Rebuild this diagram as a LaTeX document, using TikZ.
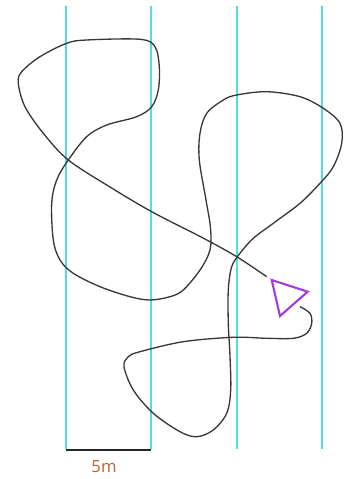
\documentclass[tikz,border=0pt]{standalone}
\usepackage{fontspec}
\setmainfont{Open Sans}
\usepackage{tikz}
\usetikzlibrary{positioning, calc}
\usepackage{xcolor}
\definecolor{lanecyan}{RGB}{80,222,222}
\definecolor{trackgray}{RGB}{55,55,55}
\definecolor{robotpurple}{RGB}{160,60,225}
\definecolor{scalebrown}{RGB}{180,100,60}
\tikzset{
  laneline/.style={draw=lanecyan,line width=1.1pt},
  trackpath/.style={draw=trackgray,line width=0.75pt,line join=round},
  robotmark/.style={draw=robotpurple,line width=1.2pt,line join=miter},
  scalebar/.style={draw=black!85,line width=1.7pt},
  scalelabel/.style={font=\fontsize{9.5}{11}\selectfont,text=scalebrown,inner sep=1pt}
}

\begin{document}
\begin{tikzpicture}[x=0.02cm,y=-0.02cm]
  \useasboundingbox (0,0) rectangle (350,479);
  % lanes
  \foreach \lx in {66,151,237,322} \draw[laneline] (\lx,6) -- (\lx,449);

  % driven track
  \draw[trackpath] plot[smooth,tension=0.55] coordinates {
    (266.7,276.7) (236.7,256.7) (203,238) (151.7,211.7) (110,187) (68.3,160)
    (43.3,133.3) (25,106.7) (18.3,83.3) (21.7,71.7) (40,56.7) (66.7,43.3)
    (86.7,40) (140,39.3) (155,46.7) (159.3,66.7) (158.3,90) (151.7,106.7)
    (136.7,116.7) (106.7,125) (86.7,136.7) (68.3,160) (56.7,180) (51.7,203.3)
    (53.3,240) (60,260) (73.3,273.3) (100,286.7) (130,296.7) (150,300)
    (170,296.7) (183.3,290) (200,270) (210,250) (210.5,228) (206,200)
    (199.3,160) (200,133.3) (206.7,113.3) (223.3,100) (236.7,95) (266.7,91.7)
    (300,96.7) (323.3,108.3) (340,123.3) (341.7,143.3) (333.3,166.7) (320,183.3)
    (300,203.3) (273.3,223.3) (253.3,238.3) (240,253.3) (231.7,266.7) (228.3,290)
    (228.3,323.3) (230,356.7) (230.7,390) (226.7,413.3) (213.3,430) (196.7,436.7)
    (180,431.7) (153.3,413.3) (133.3,390) (124,366.7) (128.3,356.7) (140,351.7)
    (183.3,341.7) (233.3,337.3) (266.7,338.3) (293.3,338.3) (306.7,333.3)
    (311.7,323.3) (310,313.3) (300,306.7)};

  % robot
  \coordinate (ra) at (271.7,280);
  \coordinate (rb) at (307.7,291.7);
  \coordinate (rc) at (280,316);
  \draw[robotmark] (ra) -- (rb) -- (rc) -- cycle;

  % scale
  \coordinate (sl) at (66,450);
  \coordinate (sr) at (151,450);
  \draw[scalebar] (sl) -- (sr);
  \node[scalelabel] (scaletxt) at (104,467) {5m};
\end{tikzpicture}
\end{document}
